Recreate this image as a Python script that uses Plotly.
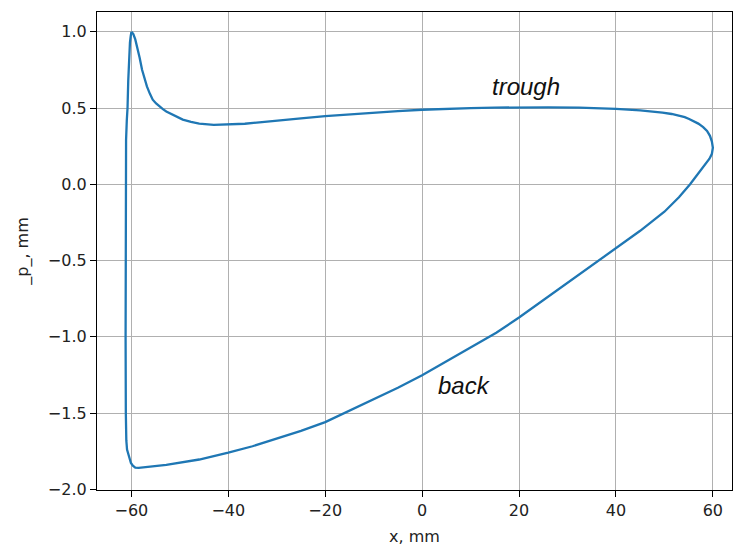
import plotly.graph_objects as go

# Closed loop: peak -> trough -> right tip -> back -> left side -> peak
x_mm = [-60.0, -59.6, -59.2, -58.8, -58.3, -57.8, -57.3, -56.8, -56.2, -55.6, -54.9, -54.2, -53.5,
        -52.8, -51.0, -49.4, -47.7, -46.0, -43.0, -40.0, -36.6, -33.6, -30.0, -25.0, -20.0, -15.0,
        -10.0, -5.0, 0.0, 5.0, 10.0, 15.0, 20.0, 26.0, 32.4, 36.0, 40.0, 45.0, 47.5, 49.6, 51.5,
        53.0, 54.2, 55.1, 56.0, 57.0, 58.0, 58.8, 59.4, 59.8, 60.0,
        59.8, 59.3, 58.5, 57.5, 56.5, 55.3, 53.0, 50.0, 45.0, 40.0, 35.0, 30.0, 25.0, 20.0, 15.3,
        10.0, 5.0, 0.0, -5.0, -10.0, -15.0, -20.0, -25.0, -30.0, -35.0, -40.0, -46.0, -52.8, -56.0,
        -58.5, -59.2, -59.7, -60.1, -60.4, -60.7, -60.9, -61.05, -61.1, -61.15,
        -61.2, -61.2, -61.2, -61.1, -60.95, -60.8, -60.65, -60.5, -60.3, -60.15, -60.0]
p_mm = [1.0, 0.985, 0.95, 0.904, 0.83, 0.751, 0.69, 0.642, 0.595, 0.555, 0.53, 0.51, 0.493,
        0.478, 0.448, 0.424, 0.409, 0.398, 0.39, 0.391, 0.397, 0.406, 0.415, 0.432, 0.447, 0.459,
        0.47, 0.48, 0.489, 0.496, 0.50, 0.503, 0.505, 0.505, 0.503, 0.5, 0.495, 0.485, 0.478, 0.47, 0.461,
        0.452, 0.44, 0.428, 0.415, 0.398, 0.375, 0.35, 0.318, 0.28, 0.24,
        0.20, 0.168, 0.135, 0.098, 0.055, 0.0, -0.085, -0.18, -0.305, -0.42, -0.535, -0.65, -0.762, -0.874, -0.973,
        -1.07, -1.163, -1.253, -1.335, -1.41, -1.487, -1.56, -1.617, -1.67, -1.718, -1.76, -1.805, -1.84, -1.853,
        -1.86, -1.858, -1.845, -1.828, -1.80, -1.77, -1.74, -1.68, -1.6, -1.5,
        -1.0, -0.5, 0.0, 0.29, 0.42, 0.5, 0.68, 0.86, 0.93, 0.97, 1.0]

x_ticks = [-60, -40, -20, 0, 20, 40, 60]
y_ticks = [-2.0, -1.5, -1.0, -0.5, 0.0, 0.5, 1.0]
y_tick_text = ["\u22122.0", "\u22121.5", "\u22121.0", "\u22120.5", "0.0", "0.5", "1.0"]
x_tick_text = ["\u221260", "\u221240", "\u221220", "0", "20", "40", "60"]

labels = ["trough", "back"]
label_x = [21.5, 8.7]
label_y = [0.64, -1.32]

fig = go.Figure()
fig.add_trace(go.Scatter(x=x_mm, y=p_mm, mode="lines",
                         line=dict(color="#1f77b4", width=2.3),
                         showlegend=False, hoverinfo="skip"))

for t, lx, ly in zip(labels, label_x, label_y):
    fig.add_annotation(x=lx, y=ly, text="<i>" + t + "</i>", showarrow=False,
                       font=dict(family="Liberation Sans, Arial", size=24, color="#111111"))

axis_common = dict(showline=True, linecolor="black", linewidth=1.2, mirror=True,
                   ticks="outside", ticklen=6, tickwidth=1.2, tickcolor="black",
                   showgrid=True, gridcolor="#b0b0b0", gridwidth=1, zeroline=False,
                   automargin=False,
                   tickfont=dict(family="DejaVu Sans", size=16, color="#222222"))

fig.update_xaxes(range=[-67.1, 63.95], tickvals=x_ticks, ticktext=x_tick_text,
                 title=dict(text="x, mm", font=dict(family="DejaVu Sans", size=16, color="#222222"),
                            standoff=11),
                 **axis_common)
fig.update_yaxes(range=[-2.005, 1.13], tickvals=y_ticks, ticktext=y_tick_text,
                 title=dict(text="_p_, mm", font=dict(family="DejaVu Sans", size=16, color="#222222"),
                            standoff=15),
                 **axis_common)

fig.update_layout(width=733, height=547, margin=dict(l=97, r=1, t=12, b=57),
                  plot_bgcolor="white", paper_bgcolor="white")

# remove the default 8px page margin so the figure fills the window exactly
fig.write_html("out.html", config={"displayModeBar": False},
               post_script="document.body.style.margin='0';document.body.style.overflow='hidden';")
